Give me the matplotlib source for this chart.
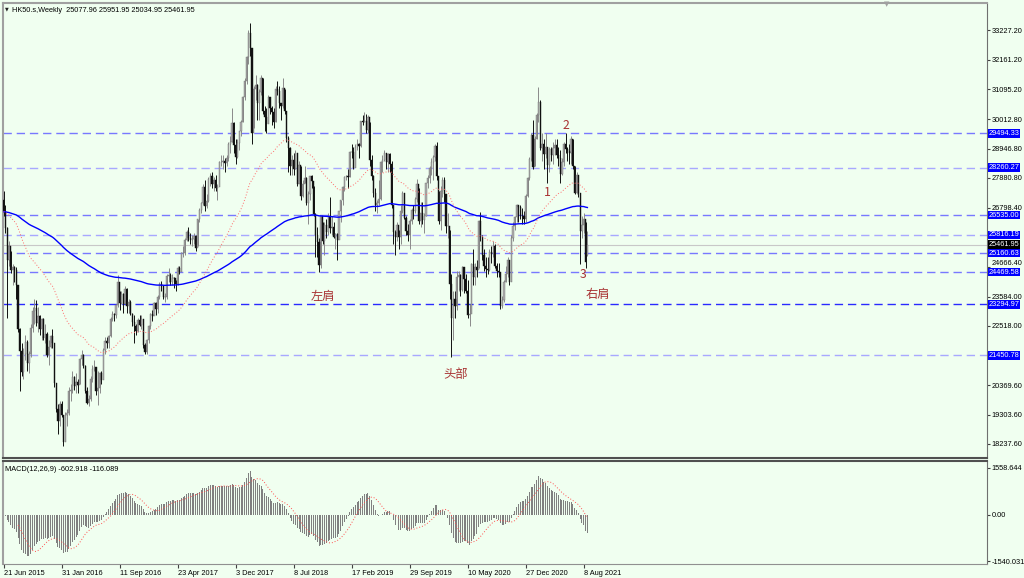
import numpy as np
import pandas as pd
import matplotlib
matplotlib.use("Agg")
import matplotlib.pyplot as plt
import matplotlib.transforms as mtransforms

# Weekly HK50 bars, 21 Jun 2015 .. Aug 2021
closes = [
    26663, 26064, 24901, 25415, 24553, 24636, 24552, 23991, 22410, 21612,
    20841, 21504, 21920, 21186, 21506, 22459, 23067, 23151, 22640, 22867,
    22397, 22755, 22068, 22236, 21464, 21756, 22138, 21914, 20453, 19521,
    19081, 19683, 19289, 18319, 19286, 19364, 20176, 20199, 20672, 20345,
    20498, 20370, 21316, 21467, 21067, 20156, 19719, 19852, 20577, 20947,
    21042, 20170, 20259, 20794, 20564, 21659, 21964, 21891, 22146, 22767,
    22937, 22910, 23266, 24099, 23335, 23686, 23297, 23852, 23233, 23374,
    22954, 22643, 22531, 22344, 22723, 22565, 22761, 21833, 21574, 22001,
    22504, 22937, 22886, 23361, 23129, 23575, 24034, 23966, 23553, 23569,
    24310, 24358, 24111, 24267, 24262, 24042, 24615, 24476, 25156, 25175,
    25639, 25924, 25708, 25626, 25670, 25765, 25341, 26389, 26706, 26979,
    27563, 26883, 27048, 27848, 27953, 27668, 27807, 27500, 27554, 28458,
    28476, 28487, 28438, 28603, 29121, 29199, 29866, 29074, 28640, 29166,
    29578, 29919, 30814, 31412, 32254, 33154, 32601, 29507, 31115, 31267,
    30583, 30996, 31502, 30309, 30093, 29844, 30808, 30418, 30280, 29927,
    31122, 31048, 30588, 30492, 31158, 30309, 29339, 28955, 28316, 28525,
    28224, 28804, 27677, 28367, 27213, 27672, 27889, 26973, 27286, 27953,
    27788, 26573, 25801, 25561, 24717, 26486, 25601, 26183, 25927, 26506,
    26063, 26094, 25753, 25846, 25626, 26667, 27090, 27569, 27930, 27946,
    27901, 28816, 28812, 28228, 29012, 29113, 29051, 29936, 29909, 29963,
    29605, 30082, 28550, 27946, 27354, 26901, 26965, 27118, 28473, 28542,
    28775, 28471, 28765, 28397, 26919, 25939, 25734, 26179, 25725, 26690,
    27353, 26435, 25955, 25821, 26308, 26720, 26667, 27101, 27651, 26327,
    26595, 26346, 26498, 27688, 27871, 28225, 28452, 28638, 29056, 27950,
    26313, 27404, 27816, 27309, 26130, 26146, 24033, 22805, 23484, 23236,
    24300, 24380, 23832, 24644, 24230, 23797, 22930, 22961, 24770, 24301,
    24644, 24550, 26339, 25727, 25089, 24705, 24595, 24532, 25183, 25113,
    25422, 24695, 24503, 24455, 23235, 23459, 24119, 24387, 24918, 24107,
    25713, 26157, 26452, 26895, 26836, 26506, 26498, 26387, 27231, 27878,
    28574, 29448, 28284, 29289, 30174, 30645, 28980, 29099, 28740, 28991,
    28336, 28939, 28699, 28970, 29079, 28725, 28610, 28028, 28458, 29124,
    28918, 28842, 28801, 29288, 28310, 27344, 28004, 27321, 25961, 26179,
    26391, 24849, 25461.95,
]
highs = [
    27400, 26900, 26100, 25600, 25250, 24750, 24700, 24650, 23900, 22450,
    21900, 21700, 22200, 22000, 21600, 22600, 23200, 23500, 23450, 23200,
    22900, 22800, 22800, 22600, 22300, 22000, 22200, 22400, 21600, 20400,
    19700, 19800, 19800, 19300, 19400, 19500, 20300, 20400, 20900, 20700,
    20800, 20600, 21350, 21650, 21500, 21100, 20300, 20000, 20700, 21100,
    21300, 20900, 20900, 20850, 20900, 21700, 22100, 22100, 22200, 22850,
    23050, 23000, 23300, 24364, 23800, 23800, 23700, 23950, 23900, 23500,
    23450, 23000, 22900, 22600, 22800, 22900, 22900, 22700, 21900, 22050,
    22550, 23000, 23100, 23400, 23400, 23650, 24100, 24150, 23950, 23700,
    24400, 24600, 24450, 24400, 24300, 24200, 24700, 24700, 25200, 25400,
    25700, 26000, 26100, 25900, 25800, 25900, 25800, 26400, 26800, 27000,
    27650, 27800, 27300, 27900, 28050, 28100, 27900, 28000, 27650, 28500,
    28700, 28700, 28600, 28700, 29200, 29400, 30400, 29900, 29300, 29300,
    29600, 30000, 30850, 31500, 32300, 33250, 33490, 32600, 31200, 31600,
    31300, 31100, 31600, 31500, 30500, 30400, 30900, 30800, 30500, 30400,
    31200, 31400, 31200, 30600, 31500, 31100, 30300, 29400, 29000, 28700,
    28800, 28900, 28800, 28500, 28300, 27800, 28300, 27900, 27400, 27950,
    28000, 27600, 26600, 26100, 25700, 26500, 26300, 26300, 26400, 26600,
    27200, 26500, 26300, 25900, 25900, 26700, 27100, 27600, 27950, 28000,
    28200, 28850, 29100, 29000, 29100, 29300, 29150, 29950, 30150, 30280,
    30200, 30150, 29900, 28700, 28000, 27500, 27100, 27800, 28500, 28700,
    28900, 28800, 28800, 28800, 28500, 26600, 26000, 26300, 26000, 26900,
    27400, 27100, 26500, 26200, 26400, 26800, 26900, 27200, 27850, 27500,
    27000, 27000, 26600, 27700, 28000, 28300, 28600, 28700, 29100, 29174,
    27400, 27600, 27900, 27900, 27100, 26600, 26000, 24400, 23800, 23800,
    24500, 24500, 24400, 24700, 24500, 24400, 24200, 23300, 24800, 25300,
    24800, 24900, 26350, 26650, 25800, 25300, 25000, 25000, 25300, 25400,
    25600, 25500, 24800, 24800, 24400, 23600, 24200, 24700, 25000, 24900,
    25800, 26300, 26500, 26950, 26900, 26900, 26800, 26700, 27300, 27900,
    28650, 29500, 30000, 29400, 30250, 31183, 30700, 29500, 29300, 29500,
    29000, 29000, 29000, 29200, 29300, 29300, 29000, 28900, 28600, 29200,
    29500, 29000, 29100, 29400, 29300, 28300, 28100, 28000, 27300, 26500,
    26600, 26300, 25951.95,
]
lows = [
    26500, 25900, 22800, 24700, 24450, 24000, 24100, 23500, 22300, 20150,
    20700, 20600, 21300, 20900, 20800, 21400, 22300, 22600, 22500, 22300,
    22200, 22000, 22000, 21900, 21400, 21100, 21700, 21700, 20300, 19400,
    18600, 18900, 19200, 18150, 18500, 18900, 19300, 19800, 20100, 20200,
    20100, 20100, 20400, 21100, 21000, 20100, 19700, 19600, 19800, 20500,
    20900, 20000, 19650, 20100, 20400, 20600, 21500, 21700, 21700, 22100,
    22700, 22700, 22800, 23200, 23100, 23300, 23000, 23300, 23000, 23000,
    22900, 22500, 21900, 22200, 22300, 22500, 22400, 21700, 21500, 21500,
    21900, 22400, 22700, 22900, 22900, 23000, 23500, 23800, 23500, 23400,
    23500, 24100, 24000, 24000, 23900, 23800, 24000, 24400, 24500, 25000,
    25100, 25600, 25600, 25500, 25400, 25500, 25250, 25400, 26300, 26600,
    26900, 26700, 26800, 27000, 27600, 27500, 27400, 27400, 27100, 27600,
    28300, 28200, 28100, 28300, 28500, 28800, 29200, 28800, 28400, 28600,
    28900, 29400, 29900, 30700, 31300, 32000, 32300, 29129, 29700, 30700,
    30000, 30000, 30900, 30200, 29600, 29500, 29900, 30200, 29800, 29700,
    29900, 30900, 30400, 30000, 30400, 30200, 29200, 28100, 28000, 28000,
    28000, 28200, 27600, 27700, 27100, 27200, 27700, 26900, 26200, 27100,
    27500, 26500, 25000, 25000, 24470, 24600, 25500, 25100, 25700, 25800,
    25900, 25800, 25700, 25300, 24900, 25700, 26300, 26900, 27400, 27800,
    27500, 27900, 28600, 28200, 28300, 28900, 28600, 29000, 29800, 29900,
    29500, 29500, 28300, 27800, 27200, 26700, 26600, 26900, 27100, 28100,
    28500, 28200, 28100, 28100, 26800, 25500, 25100, 25600, 25300, 25500,
    26600, 26400, 25800, 25600, 25300, 26200, 26400, 26600, 27000, 26200,
    26100, 26200, 25900, 26500, 27500, 27700, 28000, 27800, 28500, 27800,
    26200, 26000, 27200, 27000, 25900, 25700, 23500, 21400, 22000, 22800,
    23100, 23800, 23600, 23800, 23700, 23700, 22800, 22500, 23000, 24000,
    24000, 24300, 24600, 25600, 24900, 24500, 24300, 24400, 24500, 24800,
    25000, 24600, 24300, 24300, 23124, 23150, 23400, 24100, 24300, 24000,
    24300, 25600, 26000, 26300, 26300, 26400, 26200, 26200, 26300, 27200,
    27800, 28500, 28200, 28300, 29300, 29900, 28900, 28500, 28200, 28600,
    27700, 28100, 28500, 28400, 28700, 28600, 28300, 27700, 28000, 28300,
    28800, 28500, 28400, 28400, 28200, 27300, 27300, 27200, 24750, 25700,
    25900, 24600, 25034.95,
]
first_open = 27100
last_open = 25077.96

levels = [29494.33, 28260.27, 26535.00, 25816.19, 25160.63, 24469.58, 23294.97, 21450.78]
level_colors = ['#7878ff', '#a8a8ff', '#7878ff', '#a8a8ff', '#7878ff', '#7878ff', '#2a2aff', '#a8a8ff']
current_price = 25461.95

price_ticks = [33227.20, 32161.20, 31095.20, 30012.80, 28946.80, 27880.80, 26798.40,
               24666.40, 23584.00, 22518.00, 20369.60, 19303.60, 18237.60]
macd_ticks = [1558.644, 0.0, -1540.031]
macd_tick_labels = ['1558.644', '0.00', '-1540.031']
date_pos = [0, 32, 64, 96, 128, 160, 192, 224, 256, 288, 320]
date_labels = ['21 Jun 2015', '31 Jan 2016', '11 Sep 2016', '23 Apr 2017', '3 Dec 2017',
               '8 Jul 2018', '17 Feb 2019', '29 Sep 2019', '10 May 2020', '27 Dec 2020',
               '8 Aug 2021']

# pattern labels (bar index, price)
notes = [('左肩', 176, 23600), ('头部', 249, 20740), ('右肩', 328, 23640),
         ('1', 300, 27340), ('2', 310, 29770), ('3', 319.5, 24370)]

n = min(len(closes), len(highs), len(lows))
c = np.array(closes[:n], dtype=float)
h = np.array(highs[:n], dtype=float)
l = np.array(lows[:n], dtype=float)
o = np.concatenate([[first_open], c[:-1]])
o[-1] = last_open
x = np.arange(n)

s = pd.Series(c)
ma_fast = s.ewm(span=50, adjust=False).mean()
ma_slow = s.ewm(span=200, adjust=False).mean()
macd = s.ewm(span=12, adjust=False).mean() - s.ewm(span=26, adjust=False).mean()
signal = macd.rolling(9).mean()

bg = '#f0fff0'
small = ['Liberation Sans', 'DejaVu Sans']
fs = 5.3

fig = plt.figure(figsize=(10.24, 5.78), dpi=100, facecolor=bg)
W, H = 1024, 578
ax = fig.add_axes([3 / W, (H - 458) / H, 984 / W, 455 / H], facecolor=bg)
ax2 = fig.add_axes([3 / W, (H - 564) / H, 984 / W, 103 / H], facecolor=bg, sharex=ax)

# candles
up = c >= o
ax.vlines(x[up], l[up], h[up], color='#8a8a8a', lw=0.7, zorder=3)
ax.vlines(x[~up], l[~up], h[~up], color='#111111', lw=0.7, zorder=3)
ax.bar(x[up], c[up] - o[up], bottom=o[up], width=0.65, color='#b0b0b0',
       edgecolor='#707070', linewidth=0.3, zorder=4)
ax.bar(x[~up], o[~up] - c[~up], bottom=c[~up], width=0.65, color='#111111',
       edgecolor='#111111', linewidth=0.3, zorder=4)

ax.plot(x, ma_slow, color='#0000ff', lw=1.0, zorder=5)
ax.plot(x, ma_fast, color='#ff6a6a', lw=0.7, ls=(0, (1, 2)), zorder=5)

# horizontal levels
for lv, col in zip(levels, level_colors):
    ax.axhline(lv, color=col, lw=1.0, ls=(0, (6, 3.5)), zorder=2)
ax.axhline(current_price, color='#c8c8c8', lw=0.8, zorder=1)

ax.set_xlim(-0.3, 542.4)
ax.set_ylim(17730, 34224)
ax.yaxis.tick_right()
ax.set_yticks(price_ticks)
ax.set_yticklabels([f'{v:.2f}' for v in price_ticks], family=small, fontsize=fs)
ax.tick_params(axis='y', length=2, pad=1.5, color='#404040')
ax.tick_params(axis='x', bottom=False, labelbottom=False)
# 24666.40 sits just above the 24469.58 box, as in the original
ax.get_yticklabels()[7].set_va('bottom')

trans = mtransforms.blended_transform_factory(ax.transAxes, ax.transData)
for lv in levels:
    ax.text(1.0015, lv, f'{lv:.2f}', transform=trans, ha='left', va='center',
            color='white', family=small, fontsize=fs, zorder=10, clip_on=False,
            bbox=dict(boxstyle='square,pad=0.12', fc='#0000ff', ec='none'))
ax.text(1.0015, current_price, f'{current_price:.2f}', transform=trans, ha='left',
        va='center', color='white', family=small, fontsize=fs, zorder=10, clip_on=False,
        bbox=dict(boxstyle='square,pad=0.12', fc='#000000', ec='none'))

for txt, bx, py in notes:
    ax.text(bx, py, txt, color='#a83232', fontsize=8.8, ha='center', va='center',
            family=['Noto Sans CJK SC', 'DejaVu Sans'], zorder=8)

ax.text(0.009, 0.992, 'HK50.s,Weekly  25077.96 25951.95 25034.95 25461.95',
        transform=ax.transAxes, ha='left', va='top', family=small, fontsize=fs)
ax.text(0.002, 0.993, '▼', transform=ax.transAxes, ha='left', va='top',
        fontsize=3.5, color='#202020')
fig.text(887 / W, 1 - 1 / H, '▼', ha='center', va='top', fontsize=5, color='#a0a0a0')

for side in ['left', 'top']:
    ax.spines[side].set_color('#a0a0a0')
    ax.spines[side].set_linewidth(1.5)
ax.spines['right'].set_color('#707070')
ax.spines['bottom'].set_color('#505050')
ax.spines['bottom'].set_linewidth(1.5)

# MACD panel
ax2.bar(x, macd, width=0.55, color='#808080', zorder=3)
ax2.plot(x, signal, color='#ff5050', lw=0.7, ls=(0, (1, 2)), zorder=4)
ax2.set_ylim(-1639, 1789)
ax2.yaxis.tick_right()
ax2.set_yticks(macd_ticks)
ax2.set_yticklabels(macd_tick_labels, family=small, fontsize=fs)
ax2.tick_params(axis='y', length=2, pad=1.5, color='#404040')
ax2.set_xticks(date_pos)
ax2.set_xticklabels(date_labels, family=small, fontsize=fs, ha='left')
ax2.tick_params(axis='x', length=3, pad=1.0, color='#404040')
ax2.text(0.002, 0.95, 'MACD(12,26,9) -602.918 -116.089', transform=ax2.transAxes,
         ha='left', va='top', family=small, fontsize=fs)
ax2.spines['top'].set_color('#505050')
ax2.spines['top'].set_linewidth(1.5)
ax2.spines['left'].set_color('#a0a0a0')
ax2.spines['left'].set_linewidth(1.5)
ax2.spines['right'].set_color('#707070')
ax2.spines['bottom'].set_color('#909090')

fig.savefig('out.png', dpi=100, facecolor=bg)
